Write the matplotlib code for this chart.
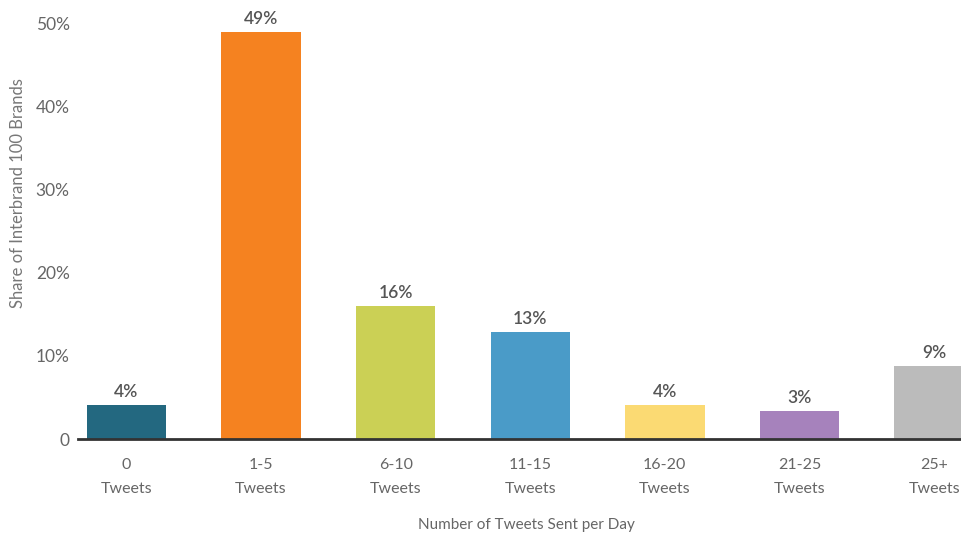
import matplotlib
matplotlib.use("Agg")
import matplotlib.pyplot as plt

categories = ["0\nTweets", "1-5\nTweets", "6-10\nTweets", "11-15\nTweets",
              "16-20\nTweets", "21-25\nTweets", "25+\nTweets"]
values = [4.1, 48.9, 16.0, 12.9, 4.1, 3.4, 8.8]
value_labels = ["4%", "49%", "16%", "13%", "4%", "3%", "9%"]
colors = ["#236880", "#F58220", "#CBD055", "#4A9BC8", "#FBDA73", "#A682BC", "#BBBBBB"]
yticks = [0, 10, 20, 30, 40, 50]
ytick_labels = ["0", "10%", "20%", "30%", "40%", "50%"]

plt.rcParams['font.family'] = ['Lato', 'DejaVu Sans']

fig = plt.figure(figsize=(9.61, 5.35), dpi=100)
ax = fig.add_axes([78/961, 1-439/535, 1-78/961, (439-23)/535])

x = list(range(len(categories)))
bars = ax.bar(x, values, width=0.59, color=colors, zorder=2)
for xi, v, lab in zip(x, values, value_labels):
    ax.text(xi, v + 0.6, lab, ha='center', va='bottom', fontsize=12.5,
            color='#555555', fontweight='semibold', clip_on=False)

ax.set_xlim(-0.36, 6.2)
ax.set_ylim(0, 50)
ax.set_yticks(yticks)
ax.set_yticklabels(ytick_labels)
ax.set_xticks(x)
ax.set_xticklabels(categories, linespacing=1.9)

for s in ['top', 'right', 'left']:
    ax.spines[s].set_visible(False)
ax.spines['bottom'].set_color('#333333')
ax.spines['bottom'].set_linewidth(2)
ax.spines['bottom'].set_zorder(3)

ax.tick_params(axis='both', length=0, labelcolor='#666666')
ax.tick_params(axis='x', labelsize=11.5, pad=14)
ax.tick_params(axis='y', labelsize=12.5, pad=6)

fig.text(526/961, 1-525/535, "Number of Tweets Sent per Day", fontsize=11,
         color='#666666', ha='center', va='center')
fig.text(18/961, 1-193/535, "Share of Interbrand 100 Brands", fontsize=12,
         color='#777777', ha='center', va='center', rotation=90)

fig.savefig("out.png", dpi=100)
